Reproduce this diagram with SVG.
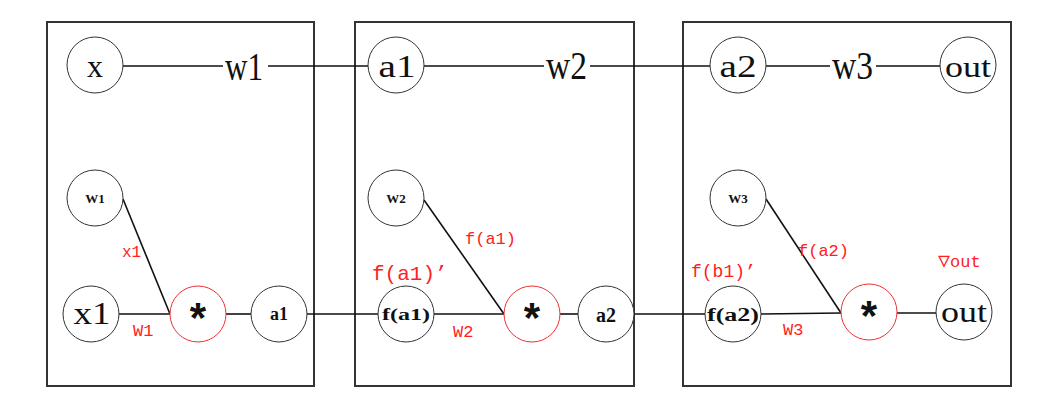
<svg xmlns="http://www.w3.org/2000/svg" width="1051" height="414" viewBox="0 0 1051 414">
<style>
.box{fill:none;stroke:#333;stroke-width:2}
.n{fill:#fff;stroke:#333;stroke-width:1}
.r{fill:#fff;stroke:#f03030;stroke-width:1}
.c line{stroke:#111;stroke-width:1.6}
.big{font-family:"Liberation Serif",serif;font-size:40px;fill:#111}
.t{font-family:"Liberation Serif",serif;fill:#111;text-anchor:middle}
.lab{font-family:"Liberation Mono",monospace;fill:#ff2020}
.star{font-family:"Liberation Sans",sans-serif;font-weight:bold;font-size:42px;fill:#111;text-anchor:middle}
</style>
<rect width="1051" height="414" fill="#fff"/>
<g id="boxes">
<rect class="box" x="47" y="22" width="267" height="364"/>
<rect class="box" x="355" y="22" width="279" height="364"/>
<rect class="box" x="683" y="22" width="328" height="364"/>
</g>
<g id="connectors" class="c">
<line x1="123" y1="66" x2="223" y2="66"/>
<line x1="268" y1="66" x2="368" y2="66"/>
<line x1="424" y1="66" x2="544" y2="66"/>
<line x1="590" y1="66" x2="710" y2="66"/>
<line x1="766" y1="66" x2="830" y2="66"/>
<line x1="876" y1="66" x2="940" y2="66"/>
<line x1="123" y1="199" x2="170" y2="314"/>
<line x1="119" y1="314" x2="170" y2="314"/>
<line x1="226" y1="314" x2="251" y2="314"/>
<line x1="307" y1="314" x2="378" y2="314"/>
<line x1="424" y1="200" x2="504" y2="314"/>
<line x1="434" y1="314" x2="504" y2="314"/>
<line x1="560" y1="314" x2="578" y2="314"/>
<line x1="634" y1="314" x2="705" y2="314"/>
<line x1="766" y1="199" x2="841" y2="313"/>
<line x1="761" y1="314" x2="841" y2="313"/>
<line x1="897" y1="313" x2="936" y2="313"/>
</g>
<g id="weights">
<text class="big" x="225" y="80" textLength="38" lengthAdjust="spacingAndGlyphs">w1</text>
<text class="big" x="546" y="79" textLength="41" lengthAdjust="spacingAndGlyphs">w2</text>
<text class="big" x="832" y="79" textLength="41" lengthAdjust="spacingAndGlyphs">w3</text>
</g>
<g id="node-x"><circle class="n" cx="95" cy="65" r="28"/><text class="t" x="95" y="77" font-size="32">x</text></g>
<g id="node-a1-top"><circle class="n" cx="396" cy="65" r="28"/><text class="t" x="397" y="77" font-size="32" textLength="37" lengthAdjust="spacingAndGlyphs">a1</text></g>
<g id="node-a2-top"><circle class="n" cx="738" cy="65" r="28"/><text class="t" x="738" y="77" font-size="32" textLength="37" lengthAdjust="spacingAndGlyphs">a2</text></g>
<g id="node-out-top"><circle class="n" cx="968" cy="65" r="28"/><text class="t" x="968" y="77" font-size="30" textLength="46" lengthAdjust="spacingAndGlyphs">out</text></g>

<g id="node-W1"><circle class="n" cx="95" cy="198" r="28"/><text class="t" x="95" y="203" font-size="13" font-weight="bold">W1</text></g>
<g id="node-x1"><circle class="n" cx="91" cy="314" r="28"/><text class="t" x="92" y="324" font-size="32" textLength="37" lengthAdjust="spacingAndGlyphs">x1</text></g>
<g id="node-mul1"><circle class="r" cx="198" cy="314" r="28"/><text class="star" x="198" y="332">*</text></g>
<g id="node-a1"><circle class="n" cx="279" cy="314" r="28"/><text class="t" x="279" y="320" font-size="18" font-weight="bold">a1</text></g>

<g id="node-W2"><circle class="n" cx="396" cy="198" r="28"/><text class="t" x="396" y="203" font-size="13" font-weight="bold">W2</text></g>
<g id="node-fa1"><circle class="n" cx="406" cy="314" r="28"/><text class="t" x="406" y="320" font-size="17" font-weight="bold" textLength="48" lengthAdjust="spacingAndGlyphs">f(a1)</text></g>
<g id="node-mul2"><circle class="r" cx="532" cy="314" r="28"/><text class="star" x="532" y="332">*</text></g>
<g id="node-a2"><circle class="n" cx="606" cy="314" r="28"/><text class="t" x="606" y="322" font-size="20" font-weight="bold">a2</text></g>

<g id="node-W3"><circle class="n" cx="738" cy="198" r="28"/><text class="t" x="738" y="203" font-size="13" font-weight="bold">W3</text></g>
<g id="node-fa2"><circle class="n" cx="733" cy="314" r="28"/><text class="t" x="733" y="321" font-size="18" font-weight="bold" textLength="52" lengthAdjust="spacingAndGlyphs">f(a2)</text></g>
<g id="node-mul3"><circle class="r" cx="869" cy="312" r="28"/><text class="star" x="869" y="330">*</text></g>
<g id="node-out"><circle class="n" cx="964" cy="312" r="28"/><text class="t" x="964" y="322" font-size="30" textLength="46" lengthAdjust="spacingAndGlyphs">out</text></g>

<g id="labels">
<text class="lab" x="122" y="257" font-size="16">x1</text>
<text class="lab" x="133" y="336" font-size="17">W1</text>
<text class="lab" x="465" y="244" font-size="17">f(a1)</text>
<text class="lab" x="372" y="280" font-size="21">f(a1)’</text>
<text class="lab" x="453" y="337" font-size="17">W2</text>
<text class="lab" x="798" y="256" font-size="17">f(a2)</text>
<text class="lab" x="691" y="277" font-size="18">f(b1)’</text>
<text class="lab" x="938" y="267" font-size="17"><tspan font-size="20">▽</tspan>out</text>
<text class="lab" x="783" y="335" font-size="17">W3</text>
</g>
</svg>
